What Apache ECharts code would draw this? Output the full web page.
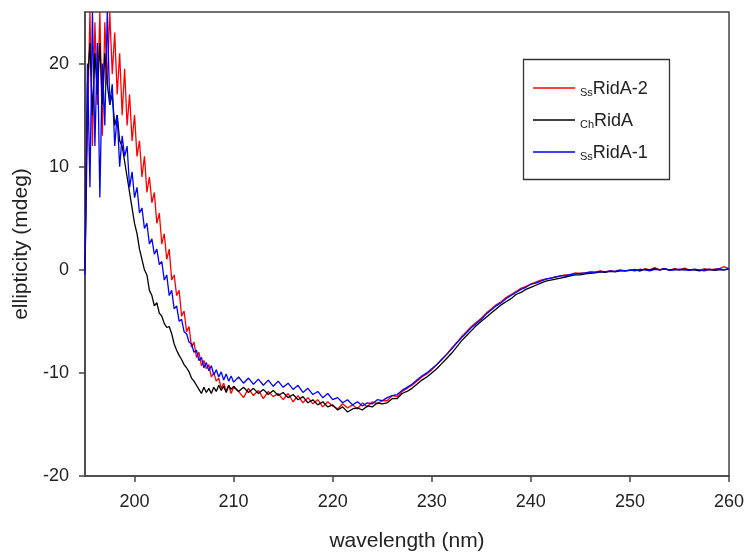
<!DOCTYPE html>
<html>
<head>
<meta charset="utf-8">
<script src="https://cdn.jsdelivr.net/npm/echarts@6/dist/echarts.min.js"></script>
<style>html,body{margin:0;padding:0;background:#fff}#c{width:747px;height:552px}</style>
</head>
<body>
<div id="c"></div>
<script>
// wavelength grid: 195–210 nm every 0.25 nm, then 210.5–260 nm every 0.5 nm
const wavelengths = [];
for (let i = 0; i <= 60; i++) wavelengths.push(195 + 0.25 * i);
for (let i = 1; i <= 100; i++) wavelengths.push(210 + 0.5 * i);

const seriesNames = ['SsRidA-2', 'ChRidA', 'SsRidA-1'];
const legendSub = ['Ss', 'Ch', 'Ss'];
const legendMain = ['RidA-2', 'RidA', 'RidA-1'];

const ssRidA2 = [
  0, 14, 25, 12, 24, 16, 25, 13, 24, 18,
  25, 19, 23, 17, 21, 15, 19.5, 14, 17, 12.5,
  15, 11, 12.5, 9, 11, 7.5, 9, 6.5, 7.5, 4.5,
  5.5, 2.5, 3.5, 1, 2, -1, -0.5, -2.5, -2, -4.5,
  -4, -6, -5.5, -7.5, -7, -8.5, -8, -9.3, -8.8, -9.6,
  -9.2, -10.4, -10, -10.8, -10.5, -11.5, -11, -11.8, -11.2, -12,
  -11.4,
  -11.8, -12.4, -11.5, -12.2, -11.7, -12.5, -11.8, -12.3, -12, -12.6,
  -12, -12.8, -12.2, -12.9, -12.4, -13, -12.6, -13.3, -12.8, -13.2,
  -13.5, -13, -13.4, -13.1, -13.5, -12.9, -13.3, -12.8, -13, -12.7,
  -12.7, -12.2, -12.3, -11.8, -11.5, -11.2, -10.8, -10.4, -10.1, -9.7,
  -9.2, -8.7, -8.2, -7.6, -7.1, -6.5, -6, -5.5, -5.1, -4.7,
  -4.2, -3.8, -3.4, -3.1, -2.7, -2.4, -2.1, -1.8, -1.6, -1.4,
  -1.2, -1.0, -0.9, -0.8, -0.7, -0.6, -0.5, -0.5, -0.3, -0.35,
  -0.3, -0.25, -0.2, -0.1, -0.2, -0.1, -0.15, 0, -0.1, -0.05,
  0.05, -0.1, 0.1, 0, 0.2, 0, 0.1, -0.05, 0.1, 0,
  0.15, 0, 0.05, -0.05, 0.1, 0, 0.05, 0.1, 0.3, 0.1
];

const chRidA = [
  0, 18, 22, 15, 21, 17, 22, 16, 21, 18,
  16, 17, 14, 15, 12.5, 12, 10.5, 9, 7.5, 6,
  4.5, 3.5, 2, 1, 0, -0.5, -2, -2.5, -3.5, -3.2,
  -4.2, -4.5, -5.2, -5.6, -5.5, -6.2, -7.2, -7.8, -8.3, -8.7,
  -9.2, -9.5, -9.9, -10.5, -10.8, -11.2, -11.6, -12, -11.4, -11.9,
  -11.5, -12, -11.4, -11.8, -11.2, -11.7, -11.3, -11.9, -11.2, -11.6,
  -11.3,
  -11.8, -11.4, -11.9, -11.5, -12, -11.6, -12.1, -11.7, -12.2, -11.9,
  -12.4, -12.1, -12.6, -12.3, -12.9, -12.6, -13.1, -12.8, -13.3, -13.1,
  -13.6, -13.3, -13.8, -13.5, -13.4, -13.6, -13.2, -13.3, -12.9, -13,
  -12.9, -12.5, -12.5, -12, -11.8, -11.5, -11.1, -10.7, -10.4, -10,
  -9.6, -9.1, -8.6, -8.1, -7.5, -6.9, -6.4, -5.9, -5.4, -5,
  -4.6, -4.2, -3.8, -3.4, -3.1, -2.8, -2.4, -2.2, -1.9, -1.7,
  -1.5, -1.3, -1.1, -1, -0.9, -0.8, -0.7, -0.6, -0.5, -0.5,
  -0.4, -0.35, -0.3, -0.2, -0.25, -0.15, -0.2, -0.1, -0.1, -0.05,
  0, -0.1, 0.05, 0, 0.1, 0, 0.1, 0, 0.05, 0,
  0.05, 0, 0, -0.1, 0, 0.05, -0.05, 0, 0, 0.1
];

const ssRidA1 = [
  -0.5, 20, 8, 25, 12, 22, 7, 20, 14, 25,
  16, 18, 12, 15, 10, 13, 11, 12, 8, 9.5,
  7, 8, 5.5, 6, 4, 4.5, 2.5, 3, 1.5, 2,
  0.5, 0.8, -1, -0.5, -2.5, -2, -3.8, -3.5, -5, -4.8,
  -6, -6.2, -7, -7.2, -8, -7.8, -8.8, -8.5, -9.5, -9,
  -9.8, -9.3, -10.2, -9.7, -10.4, -9.9, -10.7, -10.1, -10.8, -10.3,
  -10.9,
  -10.4, -11, -10.5, -11.1, -10.6, -11.2, -10.7, -11.3, -10.8, -11.4,
  -11, -11.6, -11.2, -11.9, -11.5, -12.1, -11.8, -12.4, -12, -12.6,
  -12.4, -12.9, -12.6, -13.1, -12.8, -13.2, -12.9, -13, -12.6, -12.7,
  -12.4, -12.2, -12.1, -11.7, -11.4, -11.1, -10.7, -10.3, -10, -9.6,
  -9.2, -8.7, -8.2, -7.7, -7.1, -6.6, -6.1, -5.6, -5.2, -4.8,
  -4.3, -3.9, -3.5, -3.2, -2.8, -2.5, -2.2, -1.9, -1.7, -1.4,
  -1.3, -1.1, -0.9, -0.8, -0.7, -0.6, -0.6, -0.45, -0.4, -0.35,
  -0.3, -0.2, -0.25, -0.15, -0.2, -0.1, -0.15, -0.05, -0.1, 0,
  -0.1, 0.05, 0, -0.1, 0.05, 0, 0.1, -0.05, 0, 0.05,
  0, -0.05, 0.05, 0, -0.1, 0.05, 0, 0.1, 0, 0.1
];

const xTicks = [200, 210, 220, 230, 240, 250, 260];
const yTicks = [-20, -10, 0, 10, 20];
const colors = ['#ff0000', '#000000', '#0000ff'];
const allValues = [ssRidA2, chRidA, ssRidA1];

const FONT = '"Liberation Sans", Arial, sans-serif';
const chart = echarts.init(document.getElementById('c'), null, {renderer: 'canvas'});

const series = seriesNames.map((name, k) => ({
  name: name,
  type: 'line',
  data: wavelengths.map((w, i) => [w, allValues[k][i]]),
  showSymbol: false,
  symbol: 'none',
  lineStyle: {color: colors[k], width: 1.3},
  itemStyle: {color: colors[k]},
  animation: false,
  z: 2 + k
}));

chart.setOption({
  backgroundColor: '#fff',
  animation: false,
  grid: {left: 85, right: 18, top: 12, bottom: 76, show: true, borderColor: '#444', borderWidth: 1.5,
         containLabel: false, outerBoundsMode: 'none'},
  xAxis: {
    type: 'value', min: 195, max: 260,
    name: 'wavelength (nm)', nameLocation: 'middle', nameGap: 55,
    nameTextStyle: {fontFamily: FONT, fontSize: 21, color: '#222'},
    axisLine: {show: true, onZero: false, lineStyle: {color: '#444', width: 1.5}},
    axisTick: {show: true, length: 6, inside: false, lineStyle: {color: '#444', width: 1.5}, customValues: xTicks},
    axisLabel: {fontFamily: FONT, fontSize: 18, color: '#222', margin: 17, customValues: xTicks},
    splitLine: {show: false}
  },
  yAxis: {
    type: 'value', min: -20, max: 25,
    name: 'ellipticity (mdeg)', nameLocation: 'middle', nameGap: 52, nameRotate: 90,
    nameTextStyle: {fontFamily: FONT, fontSize: 21, color: '#222'},
    axisLine: {show: true, onZero: false, lineStyle: {color: '#444', width: 1.5}},
    axisTick: {show: true, length: 6, inside: false, lineStyle: {color: '#444', width: 1.5}, customValues: yTicks},
    axisLabel: {fontFamily: FONT, fontSize: 18, color: '#222', margin: 16, customValues: yTicks},
    splitLine: {show: false}
  },
  legend: {
    orient: 'vertical', left: 528, top: 73, itemGap: 12,
    icon: 'rect', itemWidth: 42, itemHeight: 1.5,
    data: seriesNames,
    formatter: function (name) {
      const i = seriesNames.indexOf(name);
      return '{s|' + legendSub[i] + '}{m|' + legendMain[i] + '}';
    },
    textStyle: {
      fontFamily: FONT, color: '#222',
      rich: {
        s: {fontFamily: FONT, fontSize: 11, color: '#222', lineHeight: 20, verticalAlign: 'bottom', padding: [9, 0, 0, 0]},
        m: {fontFamily: FONT, fontSize: 18, color: '#222', lineHeight: 20, verticalAlign: 'bottom'}
      }
    }
  },
  graphic: [{
    type: 'rect', left: 521, top: 57, silent: true, z: 10,
    shape: {width: 146, height: 120},
    style: {fill: 'none', stroke: '#333', lineWidth: 1.3}
  }],
  series: series
});
</script>
</body>
</html>
